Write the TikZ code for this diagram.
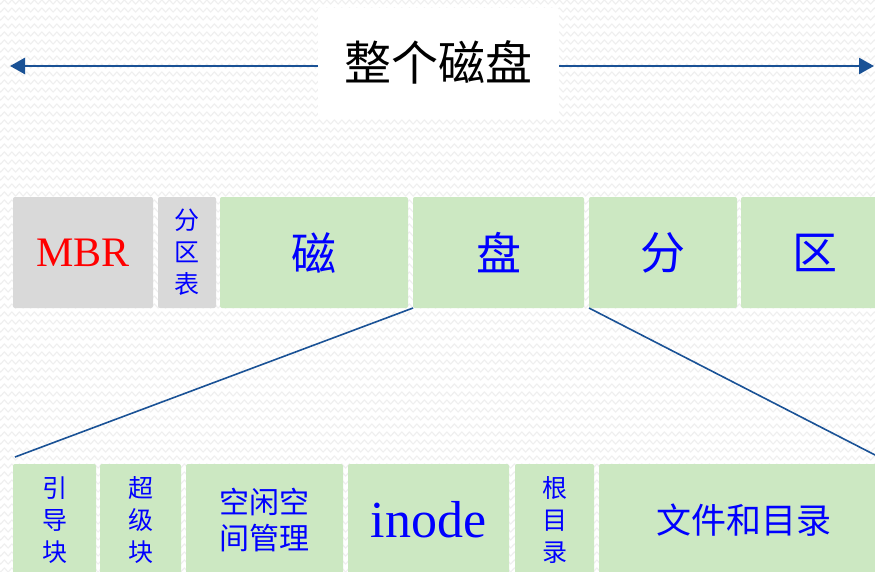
\documentclass[tikz,border=0pt]{standalone}
\usepackage{fontspec}
\setmainfont{Liberation Serif}
\newfontfamily\cjk{Noto Sans CJK SC}
\usetikzlibrary{arrows.meta,decorations.pathmorphing}
\definecolor{bgline}{HTML}{EFEFEF}
\definecolor{boxgreen}{HTML}{CCE8C2}
\definecolor{boxgray}{HTML}{D9D9D9}
\definecolor{linkblue}{HTML}{1A5296}
\definecolor{txtblue}{HTML}{0000FF}
\definecolor{txtred}{HTML}{FF0000}
\begin{document}
\begin{tikzpicture}[x=1pt,y=-1pt,
  blk/.style={rounded corners=2pt, inner sep=0pt, outer sep=0pt, anchor=north west, align=center},
  gbox/.style={blk, fill=boxgreen, text=txtblue},
  ybox/.style={blk, fill=boxgray},
  arr/.style={draw=linkblue, line width=2.6pt, -{Triangle[length=15pt,width=16pt]}},
  link/.style={draw=linkblue, line width=1.6pt},
  zz/.style={draw=bgline, line width=1.1pt, decorate, decoration={zigzag, segment length=7.5pt, amplitude=2pt}},
  cjkA/.style={font={\cjk\fontsize{25}{32}\selectfont}},
  cjkB/.style={font={\cjk\fontsize{45}{52}\selectfont}}
]
\clip (0,0) rectangle (875,571);
\fill[white] (0,0) rectangle (875,571);
\foreach \yy in {2,10,...,578} {\draw[zz] (-5,\yy) -- (885,\yy);}

% title
\node[blk, fill=white, minimum width=241pt, minimum height=109pt, font={\cjk\fontsize{47}{52}\selectfont}] (title) at (318,8)
  {整个磁盘};
\coordinate (lt) at (10,66);
\coordinate (rt) at (874,66);
\draw[arr] (title.west |- lt) -- (lt);
\draw[arr] (title.east |- rt) -- (rt);

% row 1
\node[ybox, text=txtred, minimum width=140pt, minimum height=111pt, font={\fontsize{42}{48}\selectfont}] (mbr) at (13,197)
  {MBR};
\node[ybox, text=txtblue, minimum width=58pt, minimum height=111pt, cjkA] (fqb) at (158,197)
  {分\\区\\表};
\node[gbox, minimum width=188pt, minimum height=111pt, cjkB] (ci) at (220,197) {磁};
\node[gbox, minimum width=171pt, minimum height=111pt, cjkB] (pan) at (413,197) {盘};
\node[gbox, minimum width=148pt, minimum height=111pt, cjkB] (fen) at (589,197) {分};
\node[gbox, minimum width=148pt, minimum height=111pt, cjkB] (qu) at (741,197) {区};

% row 2
\node[gbox, minimum width=83pt, minimum height=112pt, cjkA] (ydk) at (13,464)
  {引\\导\\块};
\node[gbox, minimum width=81pt, minimum height=112pt, cjkA] (cjk2) at (100,464)
  {超\\级\\块};
\node[gbox, minimum width=157pt, minimum height=112pt, font={\cjk\fontsize{30}{36}\selectfont}] (kx) at (186,464)
  {空闲空\\间管理};
\node[gbox, minimum width=161pt, minimum height=112pt, font={\fontsize{52}{58}\selectfont}] (inode) at (348,464)
  {inode};
\node[gbox, minimum width=79pt, minimum height=112pt, cjkA] (gml) at (515,464)
  {根\\目\\录};
\node[gbox, minimum width=290pt, minimum height=112pt, font={\cjk\fontsize{35}{40}\selectfont}] (wj) at (599,464)
  {文件和目录};

% connectors
\coordinate (l2) at (15,457);
\coordinate (r2) at (877,456);
\draw[link] (pan.south west) -- (l2);
\draw[link] (fen.south west) -- (r2);
\end{tikzpicture}
\end{document}
